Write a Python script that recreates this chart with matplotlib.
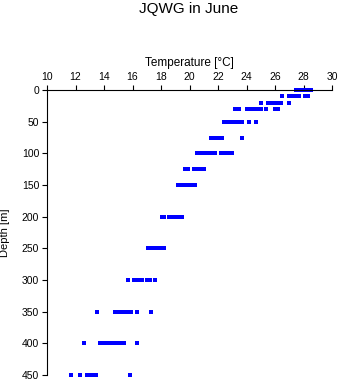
import matplotlib
matplotlib.use("Agg")
import matplotlib.pyplot as plt

plt.rcParams['font.family'] = ['Liberation Sans', 'DejaVu Sans']

# temperature readings (deg C) at each standard depth (m)
t_0 = [27.45, 27.6, 27.75, 27.9, 28.0, 28.1, 28.25, 28.4, 28.5]
t_10 = [26.5, 26.95, 27.1, 27.25, 27.4, 27.55, 27.7, 28.1, 28.25, 28.35]
t_20 = [25.0, 25.5, 25.6, 25.75, 25.9, 26.05, 26.2, 26.35, 26.45, 27.0]
t_30 = [23.2, 23.5, 24.0, 24.3, 24.6, 24.8, 25.0, 25.4, 26.0, 26.2]
t_50 = [22.4, 22.65, 22.8, 23.0, 23.15, 23.3, 23.45, 23.7, 24.2, 24.7]
t_75 = [21.5, 21.65, 21.8, 21.9, 22.2, 22.3, 23.7]
t_100 = [20.55, 20.7, 20.85, 21.0, 21.15, 21.3, 21.5, 21.8, 22.2, 22.5, 22.8, 23.0]
t_125 = [19.7, 19.9, 20.3, 20.6, 20.75, 20.9, 21.0]
t_150 = [19.2, 19.5, 19.65, 19.8, 19.95, 20.1, 20.25, 20.4]
t_200 = [18.1, 18.2, 18.55, 18.7, 18.85, 19.0, 19.15, 19.3, 19.5]
t_250 = [17.1, 17.3, 17.55, 17.7, 17.85, 18.0, 18.15, 18.2]
t_300 = [15.7, 16.1, 16.25, 16.4, 16.55, 16.7, 17.0, 17.2, 17.6]
t_350 = [13.5, 14.8, 14.95, 15.2, 15.35, 15.5, 15.65, 15.8, 15.9, 16.3, 17.3]
t_400 = [12.6, 13.7, 13.85, 14.0, 14.2, 14.4, 14.7, 14.85, 15.0, 15.15, 15.3, 15.4, 16.3]
t_450 = [11.7, 12.3, 12.8, 12.95, 13.1, 13.25, 13.45, 15.85]

depths = [0, 10, 20, 30, 50, 75, 100, 125, 150, 200, 250, 300, 350, 400, 450]
temps = [t_0, t_10, t_20, t_30, t_50, t_75, t_100, t_125, t_150,
         t_200, t_250, t_300, t_350, t_400, t_450]

xticks = list(range(10, 31, 2))
yticks = list(range(0, 451, 50))

fig = plt.figure(figsize=(3.41, 3.84), dpi=100)
ax = fig.add_axes([47 / 341, 1 - 375 / 384, 285 / 341, 285 / 384])

for d, ts in zip(depths, temps):
    ax.plot(ts, [d] * len(ts), linestyle='none', marker='s', markersize=2.3,
            color='#0000ff', markeredgewidth=0, antialiased=False, clip_on=False)

ax.set_xlim(10, 30)
ax.set_ylim(450, 0)
ax.set_xticks(xticks)
ax.set_yticks(yticks)

ax.xaxis.tick_top()
ax.xaxis.set_label_position('top')
ax.spines['right'].set_visible(False)
ax.spines['bottom'].set_visible(False)
for s in ('top', 'left'):
    ax.spines[s].set_linewidth(0.8)
ax.tick_params(axis='both', direction='out', length=3.6, width=0.8,
               labelsize=7.5, pad=2)

ax.set_xlabel('Temperature [°C]', fontsize=8.5)
ax.xaxis.set_label_coords(0.5, 1 + 24 / 285)
ax.set_ylabel('Depth [m]', fontsize=8)
ax.yaxis.set_label_coords(-37 / 285, 0.5)

fig.text(189 / 341, 1 - 8.5 / 384, 'JQWG in June', ha='center', va='center', fontsize=11)

fig.savefig('out.png', dpi=100)
